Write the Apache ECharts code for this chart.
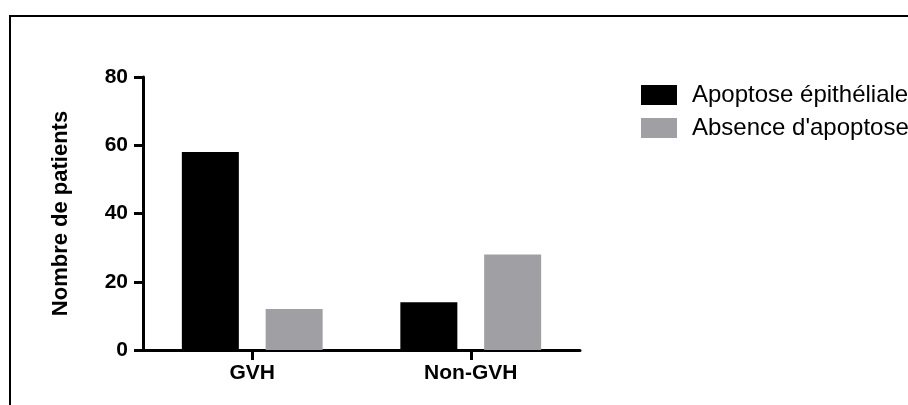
<!DOCTYPE html>
<html>
<head>
<meta charset="utf-8">
<script src="https://cdn.jsdelivr.net/npm/echarts@6/dist/echarts.min.js"></script>
<style>
html,body{margin:0;padding:0;background:#fff;}
#chart{width:908px;height:405px;}
</style>
</head>
<body>
<div id="chart"></div>
<script>
const categories = ['GVH', 'Non-GVH'];
const seriesNames = ['Apoptose épithéliale', "Absence d'apoptose"];
const apoptoseValues = [58, 14];
const absenceValues = [12, 28];
const yTicks = [0, 20, 40, 60, 80];
const yAxisTitle = 'Nombre de patients';

const FONT = "'Liberation Sans', Arial, Helvetica, sans-serif";
const chart = echarts.init(document.getElementById('chart'), null, {renderer: 'canvas'});

chart.setOption({
  backgroundColor: '#ffffff',
  animation: false,
  graphic: [
    {type: 'line', shape: {x1: 9, y1: 16, x2: 908, y2: 16}, style: {stroke: '#000', lineWidth: 2}},
    {type: 'line', shape: {x1: 10, y1: 16, x2: 10, y2: 405}, style: {stroke: '#000', lineWidth: 2}}
  ],
  legend: {
    orient: 'vertical',
    left: 641,
    top: 83,
    padding: 0,
    itemWidth: 36,
    itemHeight: 20,
    itemGap: 9,
    icon: 'rect',
    data: seriesNames,
    textStyle: {fontFamily: FONT, fontSize: 24, color: '#000', lineHeight: 21, padding: [0, 0, 0, 10]}
  },
  grid: {left: 143, top: 77, right: 328, bottom: 55, containLabel: false},
  xAxis: {
    type: 'category',
    data: categories,
    axisLine: {lineStyle: {color: '#000', width: 3}},
    axisTick: {show: true, alignWithLabel: true, length: 10, lineStyle: {color: '#000', width: 3}},
    axisLabel: {fontFamily: FONT, fontWeight: 'bold', fontSize: 21, color: '#000', margin: 13}
  },
  yAxis: {
    type: 'value',
    min: yTicks[0],
    max: yTicks[yTicks.length - 1],
    interval: yTicks[1] - yTicks[0],
    name: yAxisTitle,
    nameLocation: 'middle',
    nameRotate: 90,
    nameGap: 71,
    nameTextStyle: {fontFamily: FONT, fontWeight: 'bold', fontSize: 22, color: '#000'},
    axisLine: {show: true, lineStyle: {color: '#000', width: 3}},
    axisTick: {show: true, length: 9, lineStyle: {color: '#000', width: 3}},
    axisLabel: {fontFamily: FONT, fontWeight: 'bold', fontSize: 21, color: '#000', margin: 15},
    splitLine: {show: false}
  },
  series: [
    {name: seriesNames[0], type: 'bar', data: apoptoseValues, barWidth: 57, barGap: '47%',
     itemStyle: {color: '#000000'}},
    {name: seriesNames[1], type: 'bar', data: absenceValues, barWidth: 57, barGap: '47%',
     itemStyle: {color: '#a0a0a4'}}
  ]
});
</script>
</body>
</html>
